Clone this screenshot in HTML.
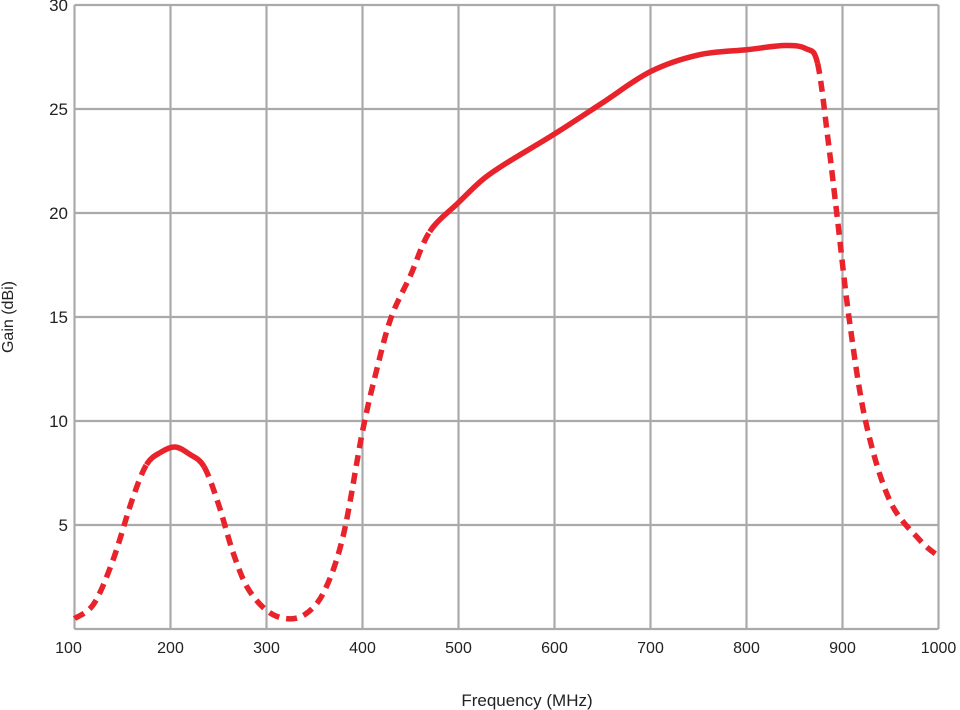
<!DOCTYPE html>
<html><head><meta charset="utf-8"><style>
html,body{margin:0;padding:0;background:#fff;}
svg{display:block;font-family:"Liberation Sans",Arial,sans-serif;}
</style></head><body>
<svg id="chart" width="960" height="710" viewBox="0 0 960 710" xmlns="http://www.w3.org/2000/svg">
<g id="grid"></g>
<g id="xticks"></g>
<g id="yticks"></g>
<g id="series"></g>
<text x="527" y="706" font-size="17" fill="#222" text-anchor="middle">Frequency (MHz)</text>
<text transform="translate(13,317) rotate(-90)" font-size="16" fill="#222" text-anchor="middle">Gain (dBi)</text>
</svg>
<script>
const xTicks=[100,200,300,400,500,600,700,800,900,1000];
const yTicks=[5,10,15,20,25,30];
const freq=[100,120,140,160,175,190,205,220,235,250,265,280,300,320,340,360,380,400,415,430,450,470,500,525,550,600,650,700,750,800,840,862,874,885,895,907,924,949,980,1000];
const gain=[0.5,1.2,3.3,6.2,7.9,8.5,8.75,8.4,7.8,6.0,3.7,2.0,0.9,0.5,0.7,1.8,4.5,9.5,12.5,15,17,19.1,20.5,21.6,22.4,23.8,25.3,26.8,27.6,27.85,28.05,27.9,27.2,23.5,19.6,14.9,10,6.2,4.3,3.5];
const solidRanges=[[175,235],[470,874]];
const NS="http://www.w3.org/2000/svg";
const X=f=>74.5+(f-100)*0.96;
const Y=v=>629-v*20.8;
function mk(tag,attrs,parent){const e=document.createElementNS(NS,tag);for(const k in attrs)e.setAttribute(k,attrs[k]);parent.appendChild(e);return e;}
const grid=document.getElementById('grid'),xt=document.getElementById('xticks'),yt=document.getElementById('yticks'),ser=document.getElementById('series');
xTicks.forEach(t=>{
 const l=mk('line',{x1:X(t),x2:X(t),y1:Y(30),y2:Y(0),stroke:'#aaa','stroke-width':2.2},grid);
 
 
 const tx=mk('text',{x:X(t)-(t===100?6:0),y:653,'font-size':16,fill:'#222','text-anchor':'middle'},xt);
 tx.textContent=t;
 
 
});
[0].concat(yTicks).forEach(t=>{
 const l=mk('line',{x1:X(100),x2:X(1000),y1:Y(t),y2:Y(t),stroke:'#aaa','stroke-width':2.2},grid);
 
 
});
yTicks.forEach(t=>{
 const tx=mk('text',{x:68,y:Y(t)+6,'font-size':17,fill:'#222','text-anchor':'end'},yt);
 tx.textContent=t;
 
 
});
const pts=freq.map((f,i)=>[X(f),Y(gain[i])]);
function pathFor(i0,i1){
 let d='M'+pts[i0][0]+','+pts[i0][1];
 for(let i=i0;i<i1;i++){
  const p0=pts[Math.max(i-1,0)],p1=pts[i],p2=pts[i+1],p3=pts[Math.min(i+2,pts.length-1)];
  const c1=[p1[0]+(p2[0]-p0[0])/6,p1[1]+(p2[1]-p0[1])/6];
  const c2=[p2[0]-(p3[0]-p1[0])/6,p2[1]-(p3[1]-p1[1])/6];
  d+=' C'+c1+' '+c2+' '+p2;
 }
 return d;
}
const isSolid=i=>solidRanges.some(r=>freq[i]>=r[0]&&freq[i+1]<=r[1]);
let start=0;
for(let i=1;i<=freq.length-1;i++){
 if(i===freq.length-1||isSolid(i)!==isSolid(start)){
  const solid=isSolid(start);
  const p=mk('path',{d:pathFor(start,i),fill:'none',stroke:'#e8232b','stroke-width':5.5},ser);
  if(!solid)p.setAttribute('stroke-dasharray','11 7');
  
  
  start=i;
 }
}
</script>
</body></html>
